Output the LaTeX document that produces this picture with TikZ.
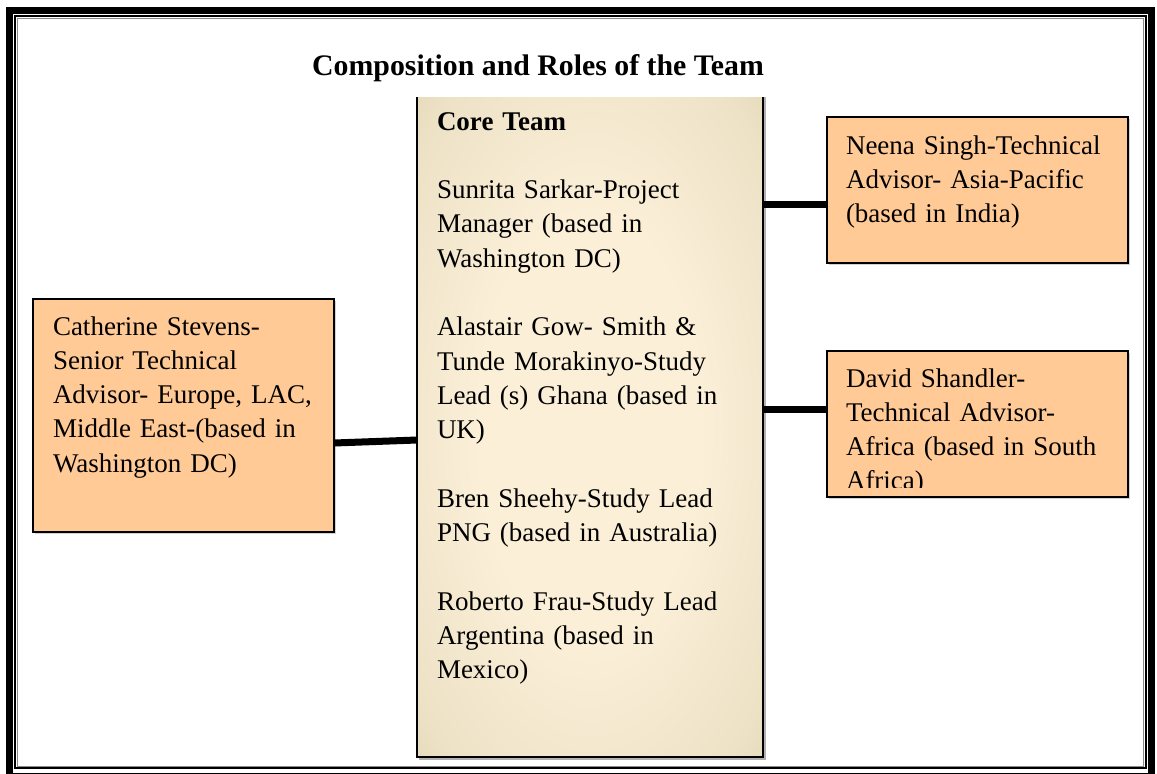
\documentclass[tikz,border=0pt]{standalone}
\usepackage{fontspec}
\setmainfont{Liberation Serif}
\usetikzlibrary{calc}

\definecolor{advisor}{HTML}{FFCA96}
\definecolor{parchC}{HTML}{FBEFD8}
\definecolor{parchM}{HTML}{EDE2C6}
\definecolor{parchD}{HTML}{DACDAA}
\definecolor{parchE}{HTML}{CBBC96}
\definecolor{framegray}{HTML}{8A8A8A}

% parchment-like fill of the core team panel
\pgfdeclareradialshading{parchment}{\pgfpoint{0bp}{0bp}}{%
  color(0bp)=(parchC); color(16bp)=(parchC); color(32bp)=(parchM);
  color(43bp)=(parchD); color(50bp)=(parchE)}

\tikzset{
  body/.style={anchor=base west, inner sep=0pt, outer sep=0pt, align=left,
    text width=#1, font=\fontsize{27}{34.3}\selectfont},
  advisorbox/.style={rectangle, fill=advisor, draw=black, line width=1.6pt,
    inner sep=0pt, outer sep=0pt, minimum width=301pt, minimum height=#1},
  corebox/.style={rectangle, shade, shading=parchment, inner sep=0pt,
    outer sep=0pt, minimum width=346pt, minimum height=660pt},
  link/.style={line width=7pt, black},
}

\begin{document}
\begin{tikzpicture}[x=1pt, y=-1pt]
  \useasboundingbox (0,0) rectangle (1157,774);
  \fill[white] (0,0) rectangle (1157,774);

  % page frame: thick outer rule, thin inner rule and grey hairline
  \draw[line width=7pt] (9.5,10) rectangle (1151.5,776);
  \draw[line width=1.8pt] (15,16) rectangle (1146,768.3);
  \draw[framegray, line width=0.9pt] (17.5,18.5) rectangle (1143.5,766);

  % heading
  \node[anchor=base west, inner sep=0pt,
        font=\fontsize{29.8}{32}\selectfont\bfseries] (title) at (312,75)
        {Composition and Roles of the Team};

  % core team panel (open at the top)
  \node[corebox] (core) at (590,427) {};
  \draw[gray!60, line width=1.5pt]
    ([xshift=1.8pt]core.north east) -- ([xshift=1.8pt,yshift=-1.8pt]core.south east)
    -- ([xshift=1.8pt,yshift=-1.8pt]core.south west);
  \draw[line width=1.5pt] (core.north west) -- (core.south west)
    -- (core.south east) -- (core.north east);

  \node[body=300pt] (coretext) at (437,130) {%
    \textbf{Core Team}\\[34.3pt]
    Sunrita Sarkar-Project\\
    Manager (based in\\
    Washington DC)\\[34.3pt]
    Alastair Gow- Smith \&\\
    Tunde Morakinyo-Study\\
    Lead (s) Ghana (based in\\
    UK)\\[34.3pt]
    Bren Sheehy-Study Lead\\
    PNG (based in Australia)\\[34.3pt]
    Roberto Frau-Study Lead\\
    Argentina (based in\\
    Mexico)};

  % advisor boxes, each with a faint drop shadow
  \fill[gray!35] (34.5,300.5) rectangle (335.5,533.5);
  \node[advisorbox=233pt] (cath) at (183.5,415.5) {};
  \node[body=275pt] (cathtext) at (53,335) {%
    Catherine Stevens-\\
    Senior Technical\\
    Advisor- Europe, LAC,\\
    Middle East-(based in\\
    Washington DC)};

  \fill[gray!35] (828.5,118.5) rectangle (1129.5,264.5);
  \node[advisorbox=146pt] (neena) at (977.5,190) {};
  \node[body=275pt] (neenatext) at (846,154) {%
    Neena Singh-Technical\\
    Advisor- Asia-Pacific\\
    (based in India)};

  \fill[gray!35] (828.5,352.5) rectangle (1129.5,498.5);
  \node[advisorbox=146pt] (david) at (977.5,424) {};
  \begin{scope}
    \clip (827,351) rectangle (1128,487.5);
    \node[body=275pt] (davidtext) at (846,387) {%
      David Shandler-\\
      Technical Advisor-\\
      Africa (based in South\\
      Africa)};
  \end{scope}

  % connectors from the advisors to the core team
  \draw[link] ([yshift=-27.5pt]cath.east) -- ([yshift=-13pt]core.west);
  \draw[link] ([yshift=223pt]core.east) -- ([yshift=-14pt]neena.west);
  \draw[link] ([yshift=18pt]core.east) -- ([yshift=15pt]david.west);
\end{tikzpicture}
\end{document}
